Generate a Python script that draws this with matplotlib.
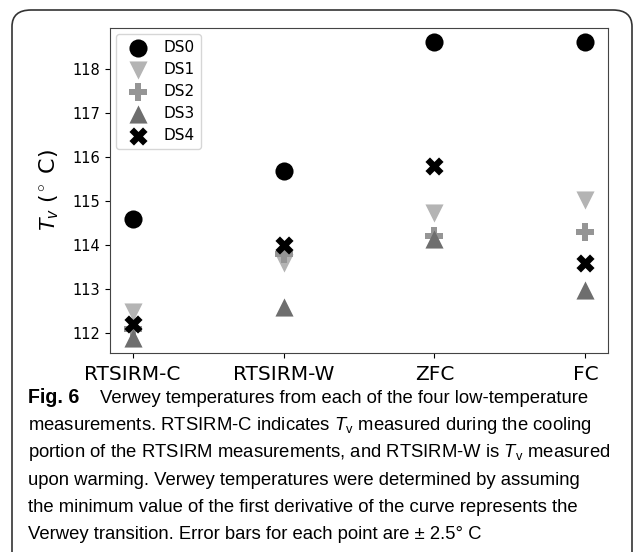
import matplotlib.pyplot as plt
from matplotlib.patches import FancyBboxPatch

cap_font = 'Liberation Sans'
plt.rcParams['mathtext.fontset'] = 'custom'
plt.rcParams['mathtext.rm'] = 'Liberation Sans'
plt.rcParams['mathtext.it'] = 'Liberation Sans:italic'

methods = ["RTSIRM-C", "RTSIRM-W", "ZFC", "FC"]
ds0 = [114.6, 115.68, 118.61, 118.61]
ds1 = [112.47, 113.6, 114.73, 115.02]
ds2 = [112.1, 113.8, 114.2, 114.3]
ds3 = [111.89, 112.59, 114.15, 112.98]
ds4 = [112.2, 114.0, 115.8, 113.59]

series = [
    ("DS0", ds0, "o", "black"),
    ("DS1", ds1, "v", "#b4b4b4"),
    ("DS2", ds2, "P", "#959595"),
    ("DS3", ds3, "^", "#6e6e6e"),
    ("DS4", ds4, "X", "black"),
]

caption = [
    "measurements. RTSIRM-C indicates $T_\\mathrm{v}$ measured during the cooling",
    "portion of the RTSIRM measurements, and RTSIRM-W is $T_\\mathrm{v}$ measured",
    "upon warming. Verwey temperatures were determined by assuming",
    "the minimum value of the first derivative of the curve represents the",
    "Verwey transition. Error bars for each point are \u00b1 2.5\u00b0 C",
]

fig = plt.figure(figsize=(6.36, 5.52), dpi=100)

# rounded frame around figure + caption
box = FancyBboxPatch((12 / 636, -0.05), 620 / 636, 1 - 10 / 552 + 0.05,
                     boxstyle="round,pad=0,rounding_size=0.03",
                     transform=fig.transFigure, fill=False,
                     edgecolor="#333333", linewidth=1.2)
fig.patches.append(box)

ax = fig.add_axes([110 / 636, 1 - 353 / 552, 498 / 636, 325 / 552])
x = list(range(len(methods)))
for name, vals, mk, col in series:
    ax.scatter(x, vals, marker=mk, color=col, s=170, label=name, linewidths=0)

ax.set_xticks(x)
ax.set_xticklabels(methods, fontsize=14.5)
ax.tick_params(axis='x', pad=5)
ax.set_ylim(111.55, 118.93)
ax.set_yticks([112, 113, 114, 115, 116, 117, 118])
ax.tick_params(axis='y', labelsize=10.5)
ax.set_ylabel("$T_v$ ($^\\circ$ C)", fontsize=16, labelpad=8,
              family='DejaVu Sans')
for sp in ax.spines.values():
    sp.set_color("#444444")
ax.legend(loc="upper left", fontsize=11, labelspacing=0.45,
          borderaxespad=0.4, handletextpad=0.7)

# caption
fs = 13.3
fig.text(28 / 636, 1 - 403 / 552, "Fig. 6", fontsize=fs + 0.8, fontweight="bold",
         family=cap_font, va="baseline")
fig.text(100 / 636, 1 - 403 / 552,
         "Verwey temperatures from each of the four low-temperature",
         fontsize=fs, family=cap_font, va="baseline")
for i, line in enumerate(caption):
    fig.text(28 / 636, 1 - (430.2 + i * 27.2) / 552, line, fontsize=fs,
             family=cap_font, va="baseline")

fig.savefig("out.png", dpi=100)
